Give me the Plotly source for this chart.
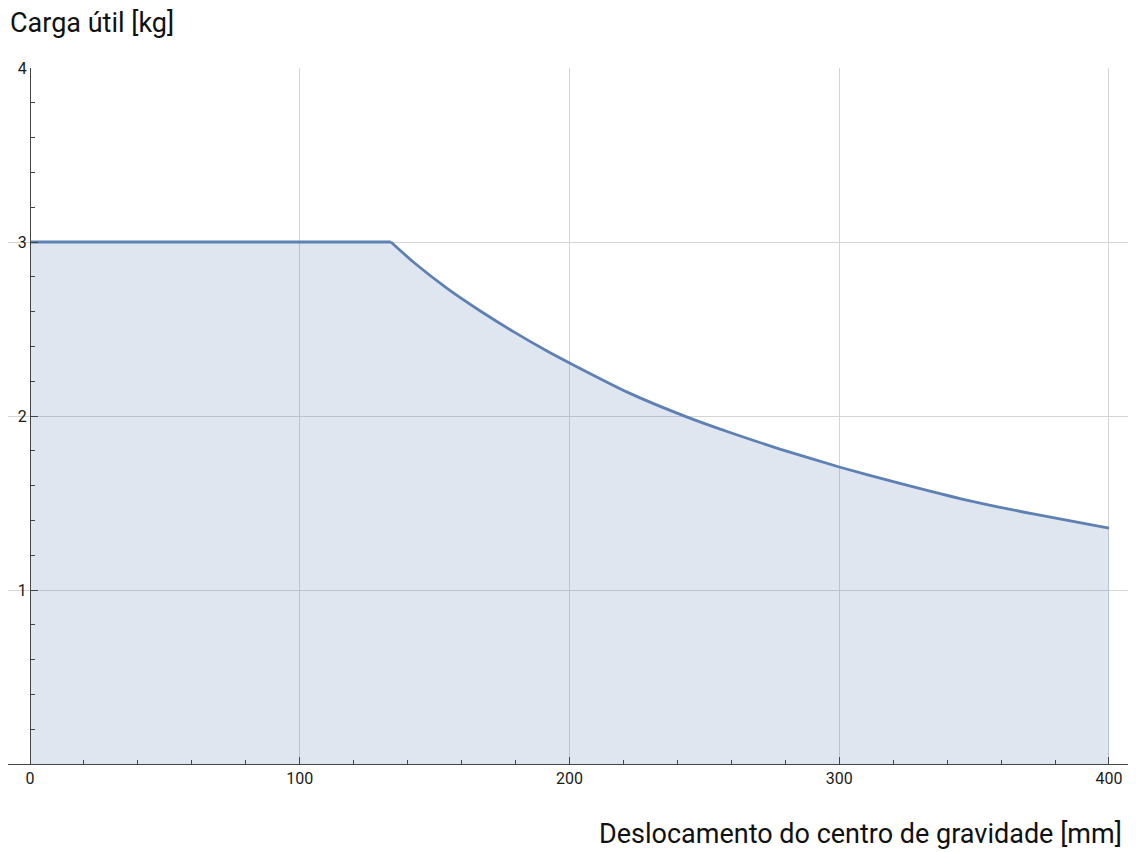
import plotly.graph_objects as go

# Data
deslocamento_mm = [0, 133.8, 142.1, 154.5, 166.8, 179.2, 191.5, 200, 222.4, 243.4,
                   259.5, 278.0, 300, 322.5, 347.2, 371.9, 400]
carga_kg = [3.0, 3.0, 2.885, 2.735, 2.605, 2.485, 2.375, 2.305, 2.13, 1.995,
            1.905, 1.81, 1.707, 1.613, 1.517, 1.437, 1.355]
corner_index = 1  # end of the flat part

x_ticks = [0, 100, 200, 300, 400]
y_ticks = [1, 2, 3, 4]

x_title = "Deslocamento do centro de gravidade [mm]"
y_title = "Carga útil [kg]"

line_color = "rgb(94,129,181)"
fill_color = "rgba(94,129,181,0.2)"
axis_color = "#444444"
grid_color = "#d4d4d4"
text_color = "#1a1a1a"

xmin, xmax = -8.16, 408.16
y_pos = (0 - xmin) / (xmax - xmin)

fig = go.Figure()
# flat part (straight)
fig.add_trace(go.Scatter(
    x=deslocamento_mm[:corner_index + 1], y=carga_kg[:corner_index + 1], mode="lines",
    line=dict(color=line_color, width=2.8, shape="linear"),
    fill="tozeroy", fillcolor=fill_color,
    showlegend=False, hoverinfo="x+y",
))
# decreasing part (smooth)
fig.add_trace(go.Scatter(
    x=deslocamento_mm[corner_index:], y=carga_kg[corner_index:], mode="lines",
    line=dict(color=line_color, width=2.8, shape="spline", smoothing=0.6),
    fill="tozeroy", fillcolor=fill_color,
    showlegend=False, hoverinfo="x+y",
))

fig.update_layout(
    width=1128, height=844,
    margin=dict(l=0, r=5, t=60, b=88),
    plot_bgcolor="white", paper_bgcolor="white",
    font=dict(family="Roboto, Arial, sans-serif", size=16, color=text_color),
    xaxis=dict(
        range=[xmin, xmax], tickvals=x_ticks,
        showgrid=True, gridcolor=grid_color, gridwidth=1,
        zeroline=False, showline=True, linecolor=axis_color, linewidth=1.3,
        ticks="inside", ticklen=7, tickcolor=axis_color,
        minor=dict(dtick=20, tick0=0, ticks="inside", ticklen=4, tickcolor=axis_color, showgrid=False),
        tickfont=dict(size=16, color=text_color),
    ),
    yaxis=dict(
        range=[0, 4], tickvals=y_ticks,
        anchor="free", position=y_pos,
        showgrid=True, gridcolor=grid_color, gridwidth=1,
        zeroline=False, showline=True, linecolor=axis_color, linewidth=1.3,
        ticks="inside", ticklen=7, tickcolor=axis_color,
        minor=dict(dtick=0.2, tick0=0, ticks="inside", ticklen=4, tickcolor=axis_color, showgrid=False),
        tickfont=dict(size=16, color=text_color),
        ticklabelstandoff=0,
    ),
    annotations=[
        dict(text=y_title, xref="paper", yref="paper", x=0.0, y=1.0,
             xanchor="left", yanchor="middle", yshift=45, showarrow=False,
             font=dict(size=27, color="#111111")),
        dict(text=x_title, xref="paper", yref="paper", x=1.0, y=0.0,
             xanchor="right", yanchor="middle", yshift=-70, xshift=-7, showarrow=False,
             font=dict(size=27, color="#111111")),
    ],
)

fig.write_html("out.html")
